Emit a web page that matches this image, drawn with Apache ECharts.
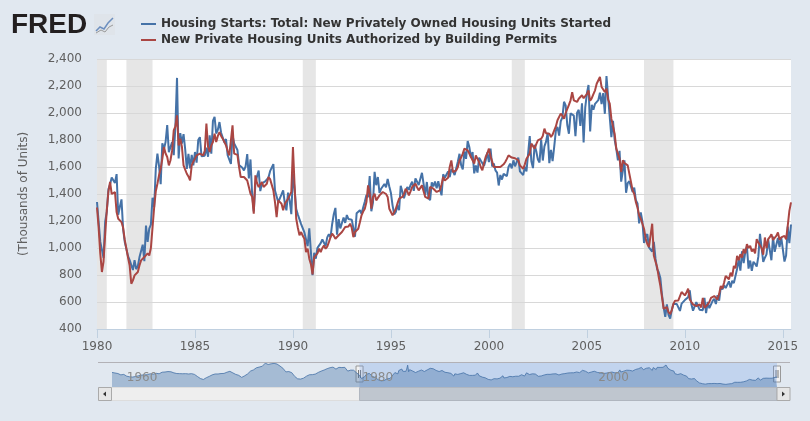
<!DOCTYPE html>
<html>
<head>
<meta charset="utf-8">
<script src="https://cdn.jsdelivr.net/npm/echarts@6/dist/echarts.min.js"></script>
<style>
    html, body { margin: 0; padding: 0; background: #e1e8f0; }
    #chart { width: 810px; height: 421px; }
</style>
</head>
<body>
<div id="chart"></div>
<script>
const seriesNames = [
    'Housing Starts: Total: New Privately Owned Housing Units Started',
    'New Private Housing Units Authorized by Building Permits'
];

// monthly, Jan 1980 .. Jun 2015 (thousands of units, SAAR)
const firstYear = 1980;
const housingStarts = [
    1341, 1350, 1047, 1051, 927, 1196, 1269, 1436, 1471, 1523, 1510, 1482,
    1547, 1246, 1306, 1360, 1140, 1045, 1041, 940, 911, 873, 837, 910,
    843, 866, 931, 917, 1025, 902, 1166, 1046, 1144, 1173, 1372, 1303,
    1586, 1699, 1606, 1472, 1776, 1733, 1785, 1910, 1710, 1715, 1785, 1688,
    1897, 2260, 1663, 1851, 1774, 1843, 1732, 1586, 1698, 1590, 1689, 1612,
    1711, 1632, 1800, 1821, 1680, 1676, 1684, 1743, 1676, 1834, 1698, 1942,
    1972, 1848, 1876, 1933, 1854, 1847, 1782, 1807, 1687, 1681, 1623, 1833,
    1774, 1784, 1726, 1614, 1628, 1594, 1575, 1605, 1695, 1515, 1656, 1400,
    1271, 1473, 1532, 1573, 1421, 1478, 1467, 1493, 1492, 1522, 1569, 1563,
    1621, 1425, 1422, 1339, 1331, 1397, 1427, 1332, 1279, 1410, 1351, 1251,
    1551, 1437, 1289, 1248, 1212, 1177, 1171, 1115, 1110, 1014, 1145, 969,
    798, 965, 921, 1001, 996, 1036, 1063, 1049, 1015, 1079, 1103, 1079,
    1176, 1250, 1297, 1099, 1214, 1145, 1139, 1226, 1186, 1244, 1214, 1227,
    1210, 1210, 1083, 1258, 1260, 1280, 1254, 1300, 1343, 1392, 1376, 1533,
    1272, 1337, 1564, 1465, 1526, 1409, 1439, 1450, 1474, 1450, 1511, 1455,
    1407, 1316, 1249, 1267, 1314, 1281, 1461, 1416, 1369, 1369, 1452, 1431,
    1467, 1491, 1424, 1516, 1504, 1467, 1472, 1557, 1475, 1392, 1489, 1370,
    1355, 1486, 1457, 1492, 1442, 1494, 1437, 1390, 1546, 1520, 1510, 1566,
    1525, 1584, 1567, 1540, 1536, 1641, 1698, 1614, 1582, 1715, 1660, 1792,
    1748, 1670, 1710, 1553, 1611, 1559, 1669, 1648, 1635, 1608, 1648, 1708,
    1636, 1737, 1604, 1626, 1575, 1559, 1463, 1541, 1507, 1549, 1551, 1532,
    1600, 1625, 1590, 1649, 1605, 1636, 1670, 1567, 1562, 1540, 1602, 1568,
    1698, 1829, 1642, 1592, 1764, 1717, 1655, 1633, 1804, 1648, 1753, 1788,
    1853, 1629, 1726, 1643, 1751, 1867, 1897, 1833, 1939, 1967, 2083, 2057,
    1911, 1846, 1998, 2003, 1981, 1828, 2002, 2024, 1905, 2072, 1782, 2042,
    2144, 2207, 1864, 2061, 2025, 2068, 2054, 2095, 2151, 2065, 2147, 1994,
    2273, 2119, 1969, 1821, 1942, 1802, 1737, 1650, 1720, 1491, 1570, 1649,
    1409, 1480, 1495, 1490, 1415, 1448, 1354, 1330, 1183, 1264, 1197, 1037,
    1084, 1103, 1005, 1013, 973, 1046, 923, 844, 820, 777, 652, 560,
    490, 582, 505, 478, 540, 585, 594, 586, 585, 534, 588, 581,
    614, 604, 636, 687, 583, 536, 546, 599, 594, 543, 545, 539,
    630, 517, 600, 554, 561, 608, 623, 585, 650, 610, 711, 694,
    723, 704, 695, 753, 708, 757, 740, 754, 847, 915, 833, 976,
    888, 969, 1010, 847, 907, 831, 898, 883, 863, 936, 1105, 1003,
    897, 928, 953, 1063, 985, 909, 1085, 972, 1024, 1074, 1007, 1080,
    1078, 900, 944, 1158, 1036, 1174
];

const buildingPermits = [
    1300, 1150, 960, 822, 900, 1100, 1280, 1420, 1489, 1400, 1390, 1415,
    1266, 1217, 1205, 1192, 1150, 1060, 995, 930, 870, 735, 760, 797,
    810, 822, 870, 908, 895, 933, 920, 960, 945, 1000, 1150, 1300,
    1420, 1476, 1540, 1587, 1660, 1748, 1700, 1674, 1612, 1650, 1723, 1871,
    1900, 1983, 1760, 1810, 1750, 1612, 1580, 1550, 1530, 1500, 1612, 1640,
    1662, 1686, 1690, 1699, 1690, 1686, 1720, 1921, 1750, 1711, 1760, 1785,
    1847, 1785, 1830, 1859, 1830, 1810, 1785, 1760, 1720, 1686, 1700, 1908,
    1699, 1699, 1690, 1600, 1526, 1530, 1526, 1513, 1500, 1452, 1402, 1380,
    1254, 1538, 1480, 1452, 1470, 1489, 1452, 1465, 1476, 1526, 1510, 1501,
    1427, 1340, 1229, 1353, 1340, 1328, 1279, 1328, 1340, 1365, 1390, 1415,
    1748, 1464, 1217, 1150, 1094, 1118, 1090, 1069, 970, 995, 921, 880,
    805, 933, 945, 960, 995, 970, 1000, 1019, 995, 1010, 1044, 1080,
    1106, 1090, 1069, 1080, 1094, 1105, 1118, 1130, 1155, 1143, 1160, 1180,
    1150, 1081, 1118, 1130, 1143, 1190, 1242, 1270, 1291, 1340, 1464, 1400,
    1291, 1378, 1402, 1353, 1365, 1390, 1400, 1415, 1427, 1400, 1378, 1291,
    1290, 1242, 1250, 1291, 1330, 1365, 1370, 1378, 1400, 1439, 1420, 1390,
    1420, 1452, 1465, 1476, 1450, 1427, 1440, 1464, 1420, 1378, 1370, 1365,
    1452, 1445, 1439, 1425, 1415, 1420, 1427, 1470, 1526, 1500, 1489, 1520,
    1600, 1649, 1563, 1570, 1575, 1600, 1649, 1670, 1699, 1736, 1730, 1723,
    1700, 1674, 1650, 1625, 1686, 1660, 1637, 1600, 1575, 1630, 1674, 1700,
    1736, 1680, 1640, 1600, 1587, 1600, 1612, 1600, 1600, 1620, 1637, 1660,
    1686, 1674, 1670, 1661, 1665, 1674, 1650, 1612, 1600, 1587, 1620, 1661,
    1680, 1699, 1773, 1760, 1736, 1770, 1797, 1800, 1810, 1830, 1884, 1850,
    1850, 1847, 1822, 1840, 1871, 1900, 1946, 1960, 1995, 1980, 1958, 2000,
    2007, 2060, 2094, 2155, 2094, 2090, 2082, 2106, 2120, 2131, 2110, 2106,
    2140, 2168, 2090, 2110, 2140, 2168, 2217, 2230, 2267, 2193, 2205, 2155,
    2180, 2100, 2069, 1958, 1900, 1847, 1736, 1700, 1662, 1563, 1649, 1630,
    1625, 1612, 1600, 1489, 1427, 1400, 1340, 1300, 1242, 1217, 1180, 1143,
    1069, 1030, 1007, 995, 1180, 945, 900, 859, 785, 720, 637, 550,
    540, 562, 525, 510, 540, 587, 610, 624, 612, 600, 674, 660,
    649, 670, 698, 619, 600, 582, 575, 569, 565, 582, 560, 631,
    557, 570, 582, 600, 631, 625, 644, 630, 619, 660, 718, 700,
    743, 792, 780, 768, 817, 790, 867, 850, 941, 910, 954, 930,
    991, 960, 1028, 1000, 1016, 975, 991, 960, 1065, 1040, 1040, 1000,
    950, 1078, 1000, 1065, 1080, 1102, 1060, 1065, 1090, 1115, 1060, 1078,
    1065, 1090, 1065, 1164, 1275, 1338
];

// navigator history of housing starts, quarterly, 1959 Q1 .. 1979 Q4
const navFirstYear = 1959;
const startsBefore1980 = [
    1600, 1550, 1500, 1380,  1420, 1260, 1200, 1180,  1230, 1300, 1360, 1380,
    1400, 1480, 1440, 1520,  1480, 1620, 1640, 1680,  1660, 1560, 1500, 1490,
    1480, 1490, 1460, 1490,  1420, 1230, 1050, 960,   1120, 1240, 1380, 1460,
    1460, 1500, 1510, 1620,  1700, 1560, 1420, 1340,  1150, 1290, 1460, 1720,
    1830, 2020, 2090, 2160,  2440, 2320, 2380, 2420,  2360, 2180, 1980, 1650,
    1680, 1580, 1240, 1020,  1000, 1080, 1260, 1390,  1400, 1450, 1600, 1720,
    1820, 1940, 2030, 2080,  1900, 2060, 2040, 2060,  1720, 1810, 1800, 1560
];

const recessions = [
    ['1980-01', '1980-07'],
    ['1981-07', '1982-11'],
    ['1990-07', '1991-03'],
    ['2001-03', '2001-11'],
    ['2007-12', '2009-06']
];

const yearTicks = [1980, 1985, 1990, 1995, 2000, 2005, 2010, 2015];
const navTicks = [1960, 1980, 2000];

const monthToX = s => {
    const [y, m] = s.split('-').map(Number);
    return y + (m - 1) / 12;
};
const monthly = arr => arr.map((v, i) => [firstYear + i / 12, v]);

const startsXY = monthly(housingStarts);
const permitsXY = monthly(buildingPermits);
const navXY = startsBefore1980.map((v, i) => [navFirstYear + i / 4, v]).concat(startsXY);
const lastX = startsXY[startsXY.length - 1][0];

const FONT = 'DejaVu Sans';
const BLUE = '#4572a7';
const RED = '#aa4643';

const chart = echarts.init(document.getElementById('chart'));
chart.setOption({
    animation: false,
    backgroundColor: '#e1e8f0',
    textStyle: { fontFamily: FONT },
    legend: {
        data: seriesNames,
        orient: 'vertical',
        left: 141,
        top: 17,
        padding: 0,
        itemGap: 2,
        itemWidth: 15,
        itemHeight: 2,
        icon: 'rect',
        selectedMode: false,
        textStyle: { fontFamily: FONT, fontSize: 12, fontWeight: 'bold', color: '#333', lineHeight: 14 }
    },
    grid: [
        { left: 97, right: 19, top: 59, bottom: 92, show: true, backgroundColor: '#fff', borderWidth: 0, outerBoundsMode: 'none' },
        { left: 112, right: 33, top: 362.5, bottom: 34, outerBoundsMode: 'none' }
    ],
    xAxis: [
        {
            type: 'value', gridIndex: 0, min: firstYear, max: lastX, interval: 5, z: 2,
            axisLine: { lineStyle: { color: '#c0d0e0' } },
            axisTick: { customValues: yearTicks, length: 9, lineStyle: { color: '#c0d0e0' } },
            axisLabel: {
                customValues: yearTicks, margin: 12, color: '#606060', fontSize: 12, fontFamily: FONT,
                formatter: v => (v % 5 === 0 ? String(v) : '')
            },
            splitLine: { show: false }
        },
        {
            type: 'value', gridIndex: 1, min: navFirstYear, max: lastX, z: 5,
            axisLine: { show: false },
            axisTick: { show: false },
            splitLine: { show: false },
            axisLabel: {
                customValues: navTicks, inside: true, margin: 3, align: 'left',
                color: '#8a8a8a', fontSize: 12, fontFamily: FONT, padding: [0, 0, 0, 3],
                formatter: v => String(v)
            }
        }
    ],
    yAxis: [
        {
            type: 'value', gridIndex: 0, min: 400, max: 2400, interval: 200, z: 2,
            name: '(Thousands of Units)',
            nameLocation: 'middle',
            nameGap: 67,
            nameTextStyle: { color: '#606060', fontSize: 12, fontFamily: FONT },
            axisLine: { show: false },
            axisTick: { show: false },
            axisLabel: {
                margin: 15, color: '#606060', fontSize: 12, fontFamily: FONT,
                formatter: v => v.toLocaleString('en-US')
            },
            splitLine: { lineStyle: { color: '#d8d8d8', width: 1 } }
        },
        { type: 'value', gridIndex: 1, min: 280, max: 2500, show: false }
    ],
    series: [
        {
            name: seriesNames[0],
            type: 'line',
            xAxisIndex: 0, yAxisIndex: 0,
            data: startsXY,
            symbol: 'none',
            z: 3,
            lineStyle: { color: BLUE, width: 2 },
            itemStyle: { color: BLUE },
            markArea: {
                silent: true,
                z: 1,
                itemStyle: { color: '#e6e6e6' },
                data: recessions.map(([a, b]) => [{ xAxis: monthToX(a) }, { xAxis: monthToX(b) }])
            }
        },
        {
            name: seriesNames[1],
            type: 'line',
            xAxisIndex: 0, yAxisIndex: 0,
            data: permitsXY,
            symbol: 'none',
            z: 4,
            lineStyle: { color: RED, width: 2 },
            itemStyle: { color: RED }
        },
        {
            name: 'navigator',
            type: 'line',
            xAxisIndex: 1, yAxisIndex: 1,
            data: navXY,
            symbol: 'none',
            silent: true,
            lineStyle: { color: BLUE, width: 1, opacity: 0.8 },
            itemStyle: { color: BLUE },
            areaStyle: { color: 'rgba(69,114,167,0.55)', origin: 'start' },
            markArea: {
                silent: true,
                itemStyle: { color: 'rgba(102,153,230,0.25)' },
                data: [[{ xAxis: firstYear }, { xAxis: lastX }]]
            }
        }
    ]
});

// logo, navigator outline, handles and scrollbar
const navL = chart.convertToPixel({ xAxisIndex: 1 }, firstYear);
const navR = chart.convertToPixel({ xAxisIndex: 1 }, lastX);

const handle = x => ({
    type: 'group',
    children: [
        { type: 'rect', shape: { x: x - 3.5, y: 366, width: 7, height: 16 }, style: { fill: '#f2f2f2', stroke: '#999', lineWidth: 1 } },
        { type: 'line', shape: { x1: x - 1, y1: 370, x2: x - 1, y2: 378 }, style: { stroke: '#777', lineWidth: 1 } },
        { type: 'line', shape: { x1: x + 1, y1: 370, x2: x + 1, y2: 378 }, style: { stroke: '#777', lineWidth: 1 } }
    ]
});

const thumbMid = (navL + navR) / 2;

chart.setOption({
    graphic: [
        {
            type: 'text', left: 11, top: 11, z: 10,
            style: { text: 'FRED', font: 'bold 28px "Liberation Sans"', fill: '#231f20' }
        },
        {
            type: 'group', z: 10,
            children: [
                { type: 'rect', shape: { x: 94, y: 14, width: 21, height: 21 }, style: { fill: '#dfe4ea' } },
                { type: 'polyline', shape: { points: [[96, 31], [100, 27], [104, 29], [108, 23], [113, 18]] }, style: { stroke: '#6d8fbf', lineWidth: 1.5, fill: null } },
                { type: 'polyline', shape: { points: [[96, 33], [101, 30], [105, 32], [109, 27], [113, 25]] }, style: { stroke: '#9a9a9a', lineWidth: 1, fill: null } }
            ]
        },
        { type: 'line', z: 10, shape: { x1: 98, y1: 362.5, x2: 790, y2: 362.5 }, style: { stroke: '#b2b1b6', lineWidth: 1 } },
        { type: 'rect', z: 10, shape: { x: 98.5, y: 387.5, width: 691, height: 13 }, style: { fill: '#eeeeee', stroke: '#dddddd' } },
        { type: 'rect', z: 10, shape: { x: navL, y: 387.5, width: navR - navL, height: 13 }, style: { fill: '#bfc6cf', stroke: '#b0b6bf' } },
        {
            type: 'group', z: 11,
            children: [-2.5, 0, 2.5].map(d => ({
                type: 'line', shape: { x1: thumbMid + d, y1: 391, x2: thumbMid + d, y2: 397 }, style: { stroke: '#555', lineWidth: 1 }
            }))
        },
        { type: 'rect', z: 11, shape: { x: 98.5, y: 387.5, width: 13, height: 13 }, style: { fill: '#e6e6e6', stroke: '#aaa' } },
        { type: 'polygon', z: 12, shape: { points: [[103, 394], [106, 391.5], [106, 396.5]] }, style: { fill: '#333' } },
        { type: 'rect', z: 11, shape: { x: navR, y: 387.5, width: 13, height: 13 }, style: { fill: '#e6e6e6', stroke: '#aaa' } },
        { type: 'polygon', z: 12, shape: { points: [[navR + 8, 394], [navR + 5, 391.5], [navR + 5, 396.5]] }, style: { fill: '#333' } },
        Object.assign(handle(navL), { z: 12 }),
        Object.assign(handle(navR), { z: 12 })
    ]
});
</script>
</body>
</html>
